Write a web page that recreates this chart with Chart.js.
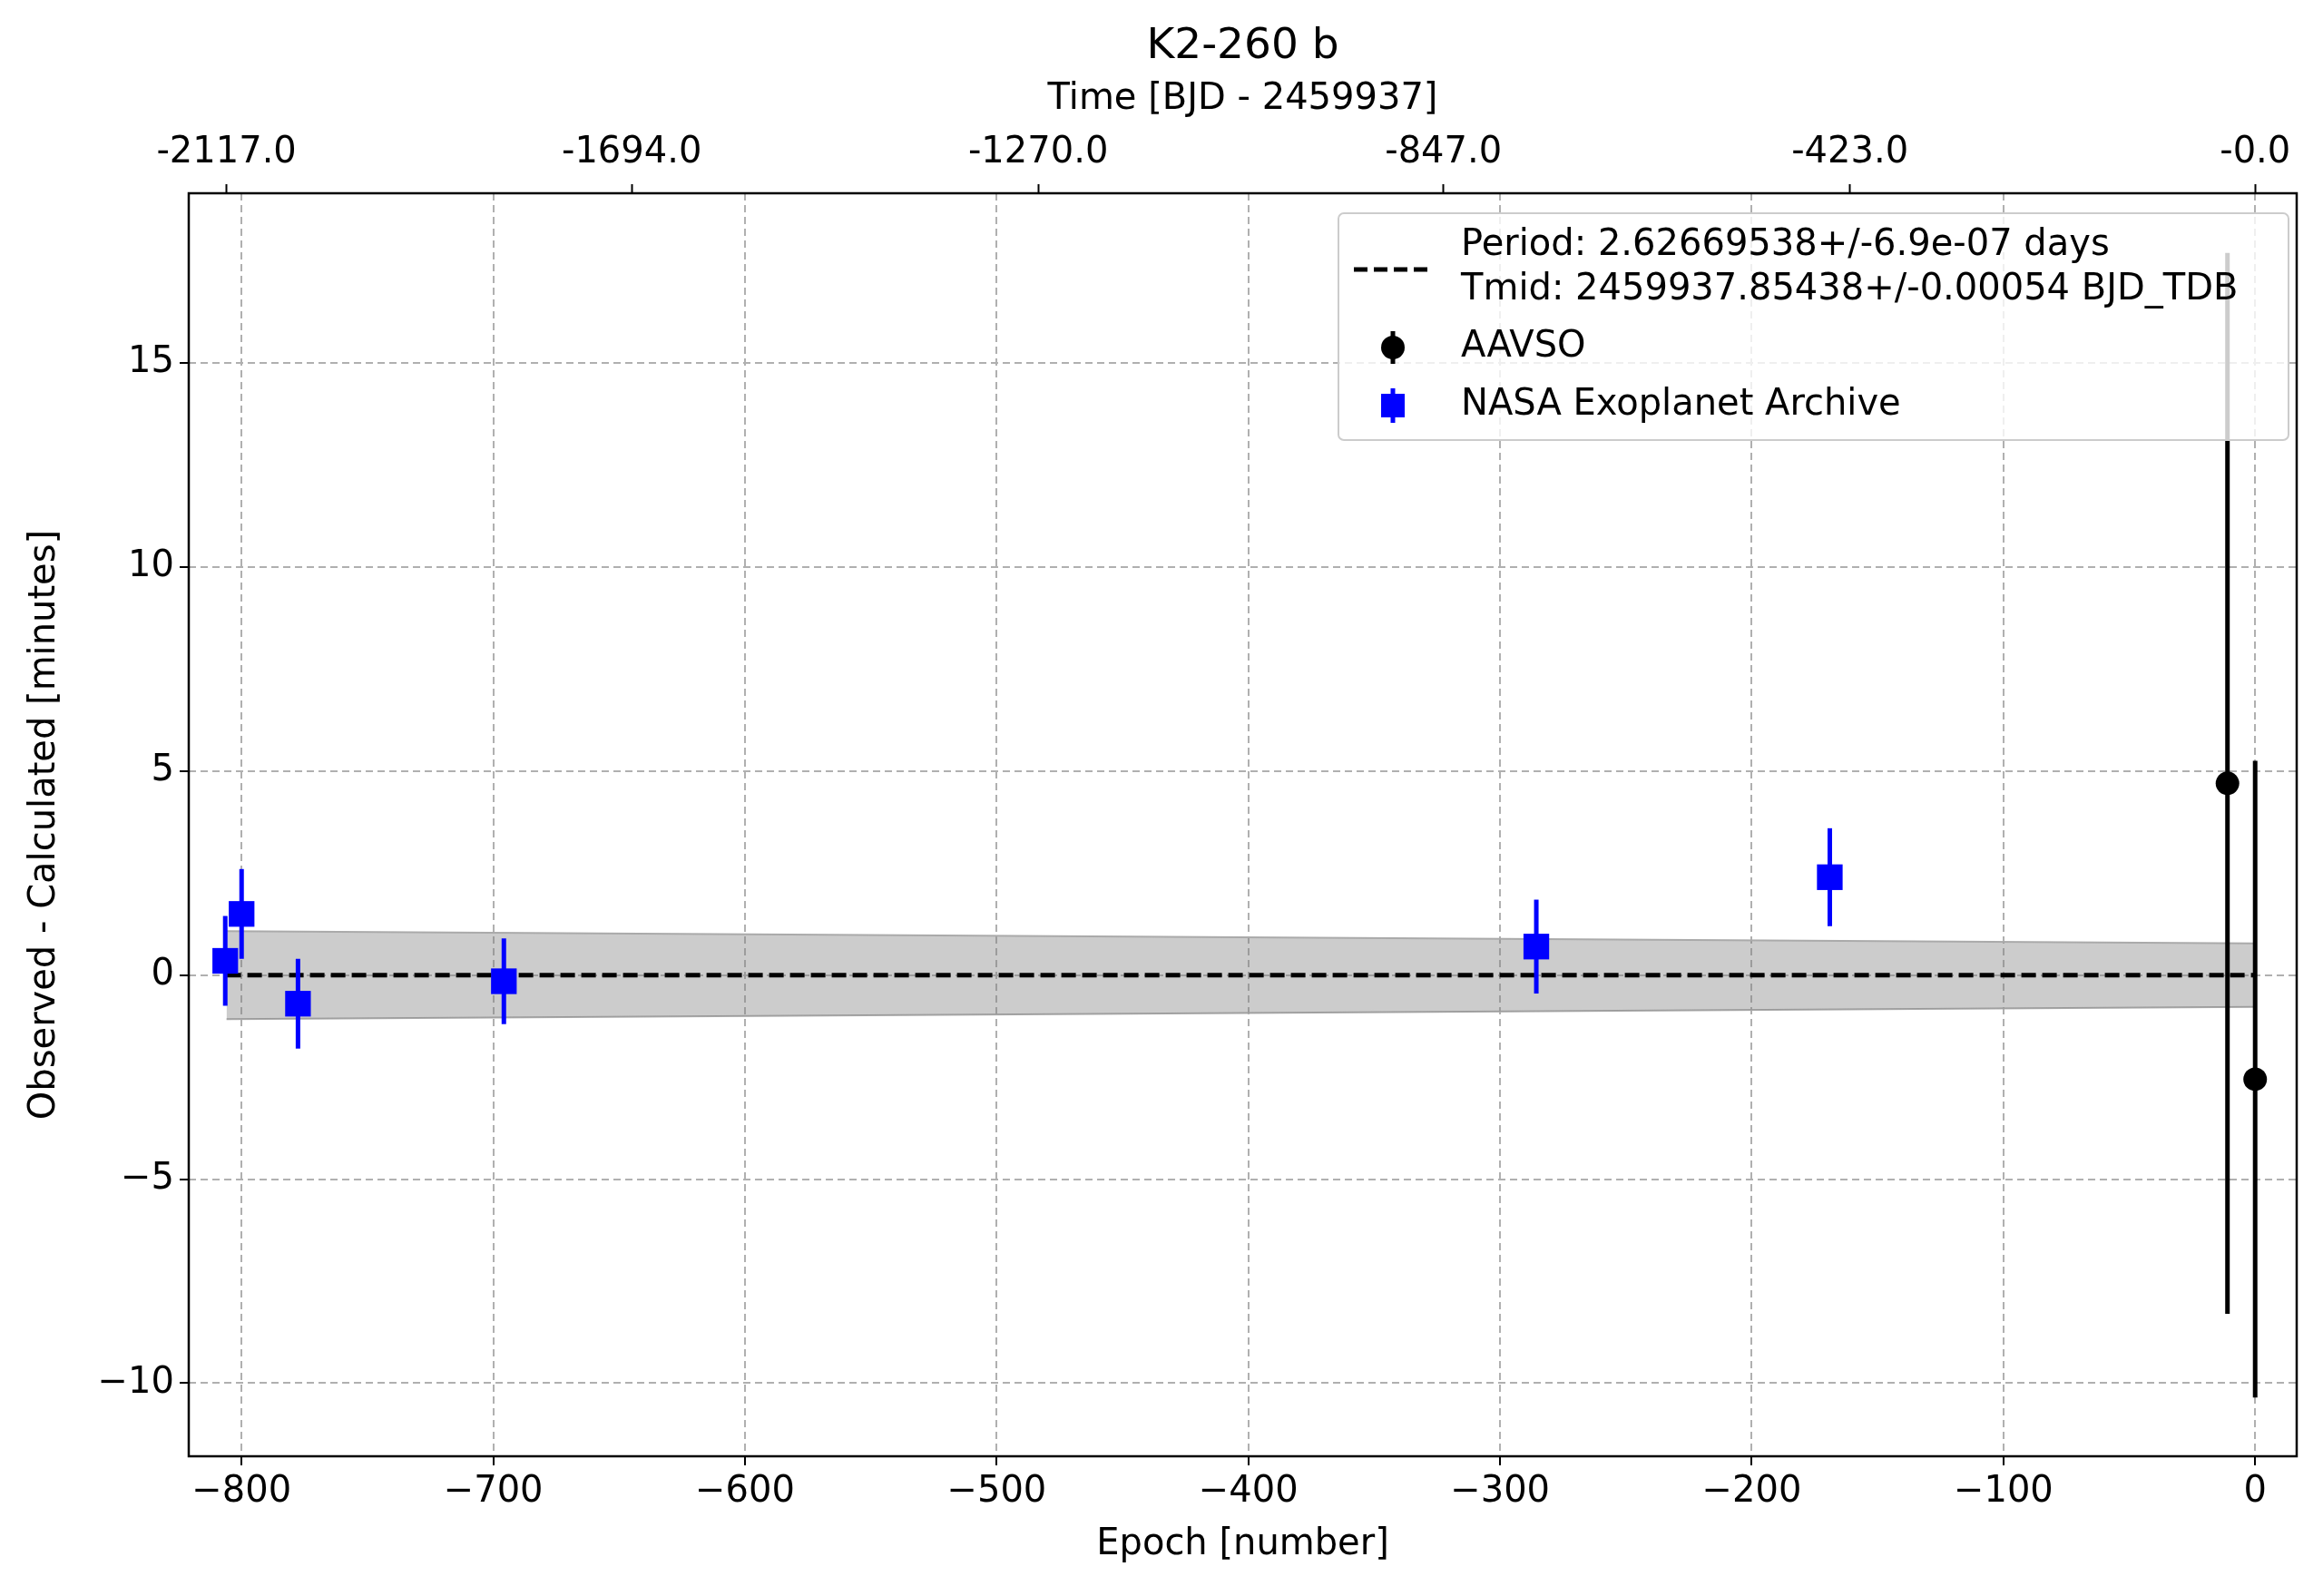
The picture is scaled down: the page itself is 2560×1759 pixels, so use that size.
<!DOCTYPE html>
<html>
<head>
<meta charset="utf-8">
<script src="https://cdn.jsdelivr.net/npm/chart.js@4.4.1/dist/chart.umd.min.js"></script>
<style>
html,body{margin:0;padding:0;background:#fff;}
#wrap{width:2560px;height:1759px;}
</style>
</head>
<body>
<div id="wrap"><canvas id="myChart" width="2560" height="1759"></canvas></div>
<script>
// data
var nasaEpoch = [-806.5, -800, -777.6, -695.8, -285.6, -169];
var nasaOC = [0.35, 1.5, -0.7, -0.15, 0.7, 2.4];
var nasaErr = [1.1, 1.1, 1.1, 1.05, 1.15, 1.2];
var aavsoEpoch = [-11, 0];
var aavsoOC = [4.7, -2.55];
var aavsoErr = [13.0, 7.8];
var bandEpoch = [-806, 0];
var bandUpper = [1.08, 0.78];
var bandLower = [-1.08, -0.78];
var topTickEpoch = [-806, -645, -483.5, -322.5, -161, 0];
var topTickLabels = ['-2117.0', '-1694.0', '-1270.0', '-847.0', '-423.0', '-0.0'];
var FONT = "'DejaVu Sans', sans-serif";
var FS = 40;

function pts(xs, ys){ return xs.map(function(x,i){ return {x:x, y:ys[i]}; }); }
function minus(v){ return String(v).replace('-', '\u2212'); }

var errorBars = {
    id: 'errorBars',
    beforeDatasetsDraw: function(chart){
        var c = chart.ctx, a = chart.chartArea;
        c.save();
        c.strokeStyle = '#000'; c.lineWidth = 2.5;
        c.strokeRect(a.left, a.top, a.right - a.left, a.bottom - a.top);
        c.restore();
    },
    afterDatasetsDraw: function(chart){
        var c = chart.ctx, xs = chart.scales.x, ys = chart.scales.y;
        c.save();
        c.lineWidth = 5;
        function bars(ex, ey, ee, col){
            c.strokeStyle = col;
            for (var i = 0; i < ex.length; i++){
                var px = xs.getPixelForValue(ex[i]);
                c.beginPath();
                c.moveTo(px, ys.getPixelForValue(ey[i] - ee[i]));
                c.lineTo(px, ys.getPixelForValue(ey[i] + ee[i]));
                c.stroke();
            }
        }
        bars(nasaEpoch, nasaOC, nasaErr, '#0000ff');
        bars(aavsoEpoch, aavsoOC, aavsoErr, '#000000');
        c.restore();
        // title and top axis label
        var cx = (chart.chartArea.left + chart.chartArea.right)/2;
        c.save();
        c.fillStyle = '#000'; c.textAlign = 'center'; c.textBaseline = 'middle';
        c.font = '47px ' + FONT;
        c.fillText('K2-260 b', cx, 52);
        c.font = FS + 'px ' + FONT;
        c.fillText('Time [BJD - 2459937]', cx, 110);
        c.restore();
        // legend
        var lx = 1475, ly = 235, lw = 1047, lh = 250;
        c.save();
        c.fillStyle = 'rgba(255,255,255,0.8)'; c.strokeStyle = '#cccccc'; c.lineWidth = 2;
        c.beginPath(); c.roundRect(lx, ly, lw, lh, 6); c.fill(); c.stroke();
        c.fillStyle = '#000'; c.font = FS + 'px ' + FONT; c.textBaseline = 'middle';
        c.fillText('Period: 2.62669538+/-6.9e-07 days', 1610, 271);
        c.fillText('Tmid: 2459937.85438+/-0.00054 BJD_TDB', 1610, 320);
        c.fillText('AAVSO', 1610, 383);
        c.fillText('NASA Exoplanet Archive', 1610, 447);
        c.setLineDash([15, 7]); c.lineWidth = 5; c.strokeStyle = '#000';
        c.beginPath(); c.moveTo(1492, 297); c.lineTo(1578, 297); c.stroke();
        c.setLineDash([]);
        c.lineWidth = 5;
        c.beginPath(); c.moveTo(1535, 365); c.lineTo(1535, 401); c.stroke();
        c.beginPath(); c.arc(1535, 383, 13, 0, Math.PI*2); c.fill();
        c.strokeStyle = '#0000ff'; c.fillStyle = '#0000ff';
        c.beginPath(); c.moveTo(1535, 428); c.lineTo(1535, 466); c.stroke();
        c.fillRect(1522, 434, 26, 26);
        c.restore();
    }
};

var config = {
    type: 'scatter',
    data: {
        datasets: [
            { label: 'upper', type: 'line', data: pts(bandEpoch, bandUpper), borderColor: '#aaaaaa', borderWidth: 2,
              backgroundColor: 'rgba(128,128,128,0.4)', fill: 1, pointRadius: 0, order: 5 },
            { label: 'lower', type: 'line', data: pts(bandEpoch, bandLower), borderColor: '#aaaaaa', borderWidth: 2,
              pointRadius: 0, fill: false, order: 5 },
            { label: 'fit', type: 'line', data: pts(bandEpoch, [0, 0]), borderColor: '#000', borderWidth: 5,
              borderDash: [16, 7], pointRadius: 0, fill: false, order: 4 },
            { label: 'NASA Exoplanet Archive', data: pts(nasaEpoch, nasaOC), pointStyle: 'rect', pointRadius: 20,
              backgroundColor: '#0000ff', borderColor: '#0000ff', borderWidth: 0, order: 1 },
            { label: 'AAVSO', data: pts(aavsoEpoch, aavsoOC), pointStyle: 'circle', pointRadius: 13,
              backgroundColor: '#000', borderColor: '#000', borderWidth: 0, order: 1 }
        ]
    },
    options: {
        responsive: false, animation: false, devicePixelRatio: 1,
        layout: { padding: { top: 0, right: 29, left: 22, bottom: 28 } },
        plugins: { legend: { display: false }, tooltip: { enabled: false } },
        scales: {
            x: {
                type: 'linear', position: 'bottom', min: -821, max: 16.5,
                afterBuildTicks: function(s){ s.ticks = [-800,-700,-600,-500,-400,-300,-200,-100,0].map(function(v){ return {value:v}; }); },
                afterFit: function(s){ s.height = 126; },
                ticks: { color: '#000', font: { size: FS, family: FONT }, padding: 6, callback: function(v){ return minus(v); } },
                grid: { color: '#b0b0b0', lineWidth: 2, tickColor: '#000', tickLength: 10, tickWidth: 2 },
                border: { display: false, dash: [8, 5] },
                title: { display: true, text: 'Epoch [number]', color: '#000', font: { size: FS, family: FONT }, padding: { top: 4 } }
            },
            x2: {
                type: 'linear', position: 'top', min: -821, max: 16.5,
                afterBuildTicks: function(s){ s.ticks = topTickEpoch.map(function(v){ return {value:v}; }); },
                afterFit: function(s){ s.height = 213; },
                ticks: { color: '#000', font: { size: FS, family: FONT }, padding: 10,
                         callback: function(v){ var i = topTickEpoch.indexOf(v); return i >= 0 ? topTickLabels[i] : ''; } },
                grid: { drawOnChartArea: false, tickColor: '#000', tickLength: 10, tickWidth: 2 },
                border: { display: false }
            },
            y: {
                min: -11.79, max: 19.16,
                afterBuildTicks: function(s){ s.ticks = [-10,-5,0,5,10,15].map(function(v){ return {value:v}; }); },
                afterFit: function(s){ s.width = 186; },
                ticks: { color: '#000', font: { size: FS, family: FONT }, padding: 6, callback: function(v){ return minus(v); } },
                grid: { color: '#b0b0b0', lineWidth: 2, tickColor: '#000', tickLength: 10, tickWidth: 2 },
                border: { display: false, dash: [8, 5] },
                title: { display: true, text: 'Observed - Calculated [minutes]', color: '#000', font: { size: FS, family: FONT }, padding: { bottom: 8 } }
            }
        }
    },
    plugins: [errorBars]
};

window.onload = function() {
    var ctx = document.getElementById('myChart').getContext('2d');
    window.myLine = new Chart(ctx, config);
};
</script>
</body>
</html>
